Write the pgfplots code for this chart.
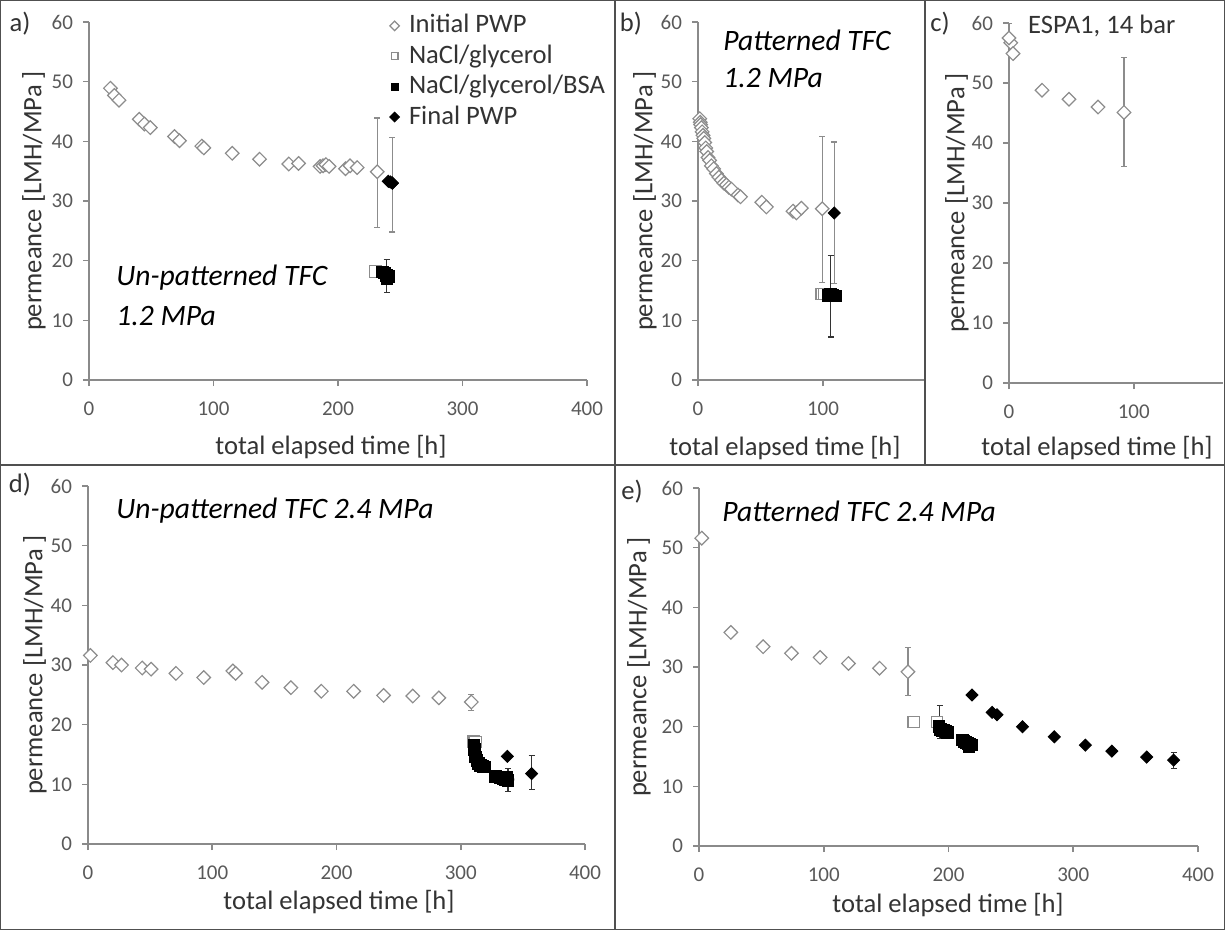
\documentclass[border=0pt]{standalone}
\usepackage{fontspec}
\setmainfont{Carlito}
\usepackage{pgfplots}
\pgfplotsset{compat=1.18}
\definecolor{axisgray}{HTML}{8A8A8A}
\definecolor{ticktext}{HTML}{595959}
\definecolor{labeltext}{HTML}{333333}
\definecolor{markgray}{HTML}{8C8C8C}
\definecolor{framecol}{HTML}{505050}

\pgfplotsset{
  panel/.style={
    scale only axis,
    axis lines=left,
    axis line style={-, draw=axisgray, line width=0.9pt},
    tick align=outside,
    major tick length=3pt,
    tick style={draw=axisgray, line width=0.8pt},
    ymin=0, ymax=60, ytick={0,10,...,60},
    /pgf/number format/assume math mode=true,
    ticklabel style={font=\fontsize{10.5}{12}\selectfont, text=ticktext},
    xticklabel style={yshift=-4.5pt},
    yticklabel style={xshift=-1.5pt},
    xlabel={total elapsed time [h]},
    ylabel={permeance [LMH/MPa ]},
    clip=false,
    anchor=south west,
    height=179pt,
  },
  xlab/.style 2 args={every axis x label/.style={at={(axis description cs:0,0)}, shift={(#1,#2)}, anchor=center, font=\fontsize{13.3}{16}\selectfont, text=labeltext}},
  ylab/.style={every axis y label/.style={at={(axis description cs:0,0.5)}, shift={(#1,0pt)}, rotate=90, anchor=center, font=\fontsize{13.3}{16}\selectfont, text=labeltext}},
  initpwp/.style={only marks, mark=square*, mark size=2.4pt, mark options={rotate=45, draw=markgray, fill=white, line width=0.6pt}},
  nacl/.style={only marks, mark=square*, mark size=2.9pt, mark options={draw=markgray, fill=white, line width=0.6pt}},
  bsa/.style={only marks, mark=square*, mark size=2.9pt, mark options={draw=black, fill=black, line width=0.5pt}},
  finalpwp/.style={only marks, mark=square*, mark size=2.1pt, mark options={rotate=45, draw=black, fill=black, line width=0.5pt}},
  errgray/.style={error bars/y dir=both, error bars/y explicit, error bars/error bar style={draw=markgray, line width=0.6pt}, error bars/error mark options={rotate=90, draw=markgray, mark size=1.5pt, line width=0.6pt}},
  errblack/.style={error bars/y dir=both, error bars/y explicit, error bars/error bar style={draw=black!80, line width=0.6pt}, error bars/error mark options={rotate=90, draw=black!80, mark size=1.5pt, line width=0.6pt}},
}

\begin{document}
\begin{tikzpicture}
\useasboundingbox (0,0) rectangle (612.5pt,-465pt);

% ---------------- a) ----------------
\begin{axis}[panel, at={(44.5pt,-190pt)}, width=249pt, xmin=0, xmax=400, xtick={0,100,...,400},
  xlab={121pt}{-33.5pt}, ylab={-27.5pt},
  legend style={at={(axis cs:240,61.6)}, anchor=north west, draw=none, fill=none, inner sep=0pt,
    font=\fontsize{13.3}{16}\selectfont, text=labeltext, row sep=2.2pt,
    nodes={inner sep=0pt, text height=10pt, text depth=3pt, anchor=west}},
  legend cell align=left,
  legend image code/.code={\draw[#1, mark size=1.7pt] plot coordinates {(0pt,0pt)}; \path (-3pt,0pt) (7pt,0pt);}]
\addplot[initpwp] coordinates {(17.2,48.9)(20.4,47.7)(24.1,46.9)(40.4,43.7)(44.5,42.9)(49.2,42.3)(68.7,40.8)(72.7,40.1)(90.6,39.2)(92.2,38.9)(115,38.0)(137,37.0)(160.5,36.2)(168.3,36.3)(185.6,35.8)(188,35.9)(190.3,36.1)(192.8,35.8)(206,35.4)(209.7,35.9)(215.4,35.6)};
\addlegendentry{Initial PWP}
\addplot[nacl] coordinates {(230,18.2)};
\addlegendentry{NaCl/glycerol}
\addplot[bsa] coordinates {(235.5,18.1)(237.5,17.9)(239,17.5)(240.5,17.3)(239.5,17.0)};
\addlegendentry{NaCl/glycerol/BSA}
\addplot[finalpwp] coordinates {(240.4,33.3)(242,33.2)(243.6,33.0)};
\addlegendentry{Final PWP}
\addplot[initpwp, errgray, forget plot] coordinates {(231.5,34.9) +=(0,9.0) -=(0,9.3)};
\addplot[bsa, errblack, forget plot, mark=none] coordinates {(239,17.5) +=(0,2.7) -=(0,2.9)};
\addplot[finalpwp, errgray, forget plot] coordinates {(243.6,33.0) +=(0,7.7) -=(0,8.2)};
\end{axis}

% ---------------- b) ----------------
\begin{axis}[panel, at={(349pt,-190pt)}, width=113.5pt, xmin=0, xmax=181.6, xtick={0,100},
  xlab={43.5pt}{-34pt}, ylab={-26.5pt}]
\addplot[initpwp] coordinates {(1.4,43.8)(1.8,43.2)(2.1,42.8)(2.7,42.3)(3.3,41.6)(4,41.0)(4.6,40.5)(5.4,39.8)(6.2,38.9)(7,38.3)(8,37.3)(9.3,36.8)(10.7,35.9)(12.5,35.4)(14.7,34.6)(16.7,34.0)(18.7,33.5)(20.7,33.0)(22.7,32.7)(24.7,32.3)(26.7,32.0)(32,31.0)(34,30.7)(51,29.8)(54.7,29.0)(76,28.3)(78.7,28.0)(82.7,28.8)};
\addplot[nacl] coordinates {(99,14.4)(101,14.4)};
\addplot[bsa] coordinates {(104,14.2)(106,14.3)(108,14.2)(110,14.1)};
\addplot[finalpwp, errgray] coordinates {(109,28.0) +=(0,11.9) -=(0,11.8)};
\addplot[initpwp, errgray] coordinates {(99.4,28.7) +=(0,12.1) -=(0,12.3)};
\addplot[bsa, errblack, mark=none] coordinates {(106,14.2) +=(0,6.7) -=(0,7.0)};
\end{axis}

% ---------------- c) ----------------
\begin{axis}[panel, at={(504.5pt,-191.5pt)}, width=107pt, height=180pt, xmin=0, xmax=171.6, xtick={0,100},
  xlab={44pt}{-32.5pt}, ylab={-26pt}]
\addplot[initpwp] coordinates {(1.4,56.7)(3.2,54.9)(26.5,48.8)(48.1,47.3)(71.4,46.0)};
\addplot[initpwp, errgray] coordinates {(0,57.5) +=(0,2.4) -=(0,57.5) (92.2,45.1) +=(0,9.2) -=(0,9.0)};
\end{axis}

% ---------------- d) ----------------
\begin{axis}[panel, at={(44pt,-422pt)}, width=248.5pt, xmin=0, xmax=400, xtick={0,100,...,400},
  xlab={125.5pt}{-29pt}, ylab={-26.5pt}]
\addplot[initpwp] coordinates {(1.9,31.6)(20.1,30.4)(27,30.0)(43.6,29.5)(50.8,29.3)(70.8,28.6)(93.1,27.9)(116.6,29.0)(118.8,28.6)(140.1,27.1)(163.3,26.2)(187.8,25.6)(213.8,25.6)(237.9,24.9)(261.4,24.8)(282.4,24.5)};
\addplot[initpwp, errgray] coordinates {(308.5,23.8) +=(0,1.3) -=(0,1.4)};
\addplot[nacl] coordinates {(310.5,17.2)(312,17.1)};
\addplot[bsa] coordinates {(310.5,16.5)(311,15.8)(311.5,15.2)(312,14.6)(313,14.0)(314.5,13.5)(316,13.2)(318,13.0)(319.5,12.9)(328,11.3)(330,11.2)(332,11.1)(334,11.0)(336,10.8)(338,10.6)(337,11.2)};
\addplot[bsa, errblack, mark=none] coordinates {(338,10.8) +=(0,1.9) -=(0,2.0)};
\addplot[finalpwp] coordinates {(337.5,14.7)};
\addplot[finalpwp, errblack] coordinates {(357,11.8) +=(0,3.0) -=(0,2.7)};
\end{axis}

% ---------------- e) ----------------
\begin{axis}[panel, at={(349.5pt,-423pt)}, width=249.5pt, xmin=0, xmax=400, xtick={0,100,...,400},
  xlab={124.5pt}{-29.5pt}, ylab={-30pt}]
\addplot[initpwp] coordinates {(2.2,51.6)(25.5,35.8)(51.4,33.4)(74.1,32.3)(97.1,31.6)(119.8,30.6)(144.7,29.8)};
\addplot[initpwp, errgray] coordinates {(167.5,29.2) +=(0,4.1) -=(0,4.0)};
\addplot[nacl] coordinates {(172.1,20.8)(190.8,20.8)};
\addplot[bsa] coordinates {(192.5,20.0)(193.5,19.5)(195,19.3)(196.5,19.4)(198,19.2)(199,19.0)(211,17.8)(212.5,17.5)(214,17.3)(215.5,17.2)(217,17.0)(218.5,16.9)(216.5,16.7)};
\addplot[bsa, errblack, mark=none] coordinates {(193,19.6) +=(0,3.9) -=(0,1.6)};
\addplot[finalpwp] coordinates {(218.8,25.3)(235,22.4)(238.8,22.0)(259.3,20.0)(284.8,18.3)(309.7,16.9)(330.9,15.9)(358.9,14.9)};
\addplot[finalpwp, errblack] coordinates {(380.4,14.4) +=(0,1.3) -=(0,1.4)};
\end{axis}

% ---------------- frames and annotations ----------------
\begin{scope}[x=0.5pt, y=-0.5pt]
\draw[framecol, line width=1pt] (0,0) rectangle (1225,930);
\draw[framecol, line width=1pt] (0,465) -- (1225,465);
\draw[framecol, line width=1pt] (615,0) -- (615,930);
\draw[framecol, line width=1pt] (925,0) -- (925,465);
\begin{scope}[every node/.style={font=\fontsize{13.3}{16}\selectfont, text=labeltext}]
\node at (20,24) {a)};
\node at (631,24) {b)};
\node at (940,24) {c)};
\node at (20,485) {d)};
\node at (632,492) {e)};
\node[anchor=west] at (1021,26) {ESPA1, 14 bar};
\end{scope}
\begin{scope}[every node/.style={font=\fontsize{14.8}{18}\selectfont\itshape, text=black, anchor=west, inner sep=0pt}]
\node at (116,278) {Un-patterned TFC};
\node at (116,316) {1.2 MPa};
\node at (723,40) {Patterned TFC};
\node at (723,78) {1.2 MPa};
\node at (116,511) {Un-patterned TFC 2.4 MPa};
\node at (722,511) {Patterned TFC 2.4 MPa};
\end{scope}
\end{scope}
\end{tikzpicture}
\end{document}
